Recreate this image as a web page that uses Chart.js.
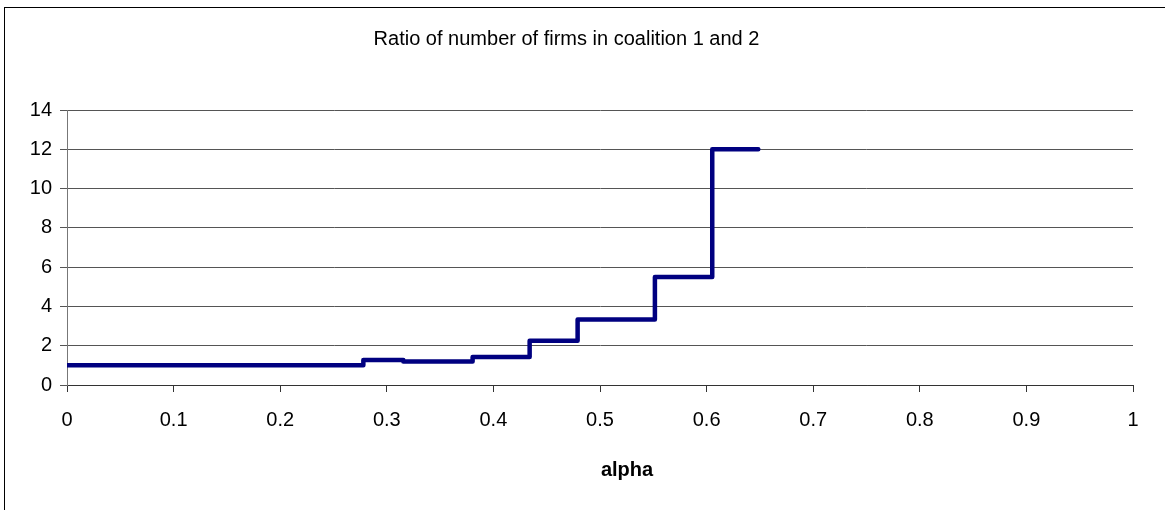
<!DOCTYPE html>
<html>
<head>
<meta charset="utf-8">
<title>Ratio of number of firms</title>
<script src="https://cdn.jsdelivr.net/npm/chart.js@4.4.0/dist/chart.umd.min.js"></script>
<style>
  html, body { margin: 0; padding: 0; background: #fff; }
  body { width: 1165px; height: 510px; position: relative; overflow: hidden; }
  .frame { position: absolute; left: 4px; top: 7px; width: 1300px; height: 600px;
           border-left: 1px solid #000; border-top: 1px solid #000; }
  .wrap { position: absolute; left: 0; top: 0; width: 1138px; height: 510px; }
</style>
</head>
<body>
<div class="frame"></div>
<div class="wrap"><canvas id="gr1"></canvas></div>
<script>
// step points: value holds from this alpha until the next one
let alpha = [0, 0.278, 0.3155, 0.3805, 0.434, 0.479, 0.5515, 0.6053, 0.6485];
let ratio = [1, 1.27, 1.2, 1.43, 2.25, 3.33, 5.5, 12, 12];
let xTicks = [0, 0.1, 0.2, 0.3, 0.4, 0.5, 0.6, 0.7, 0.8, 0.9, 1];
let yTicks = [0, 2, 4, 6, 8, 10, 12, 14];

let points = alpha.map((a, i) => ({ x: a, y: ratio[i] }));
let fam = '"Liberation Sans", Arial, sans-serif';

// axis title, a bit right of centre like the original
let alphaLabel = {
  id: 'alphaLabel',
  afterDraw(chart) {
    let c = chart.ctx, ca = chart.chartArea;
    c.save();
    c.font = 'bold 20px ' + fam;
    c.fillStyle = '#000';
    c.textAlign = 'center';
    c.textBaseline = 'middle';
    c.fillText('alpha', (ca.left + ca.right) / 2 + 27, 470);
    c.restore();
  }
};

let config = {
  type: 'line',
  data: {
    datasets: [{
      data: points,
      borderColor: '#000080',
      borderWidth: 4.5,
      pointRadius: 0,
      stepped: 'before',
      fill: false,
      borderCapStyle: 'round',
      borderJoinStyle: 'round'
    }]
  },
  options: {
    responsive: true,
    maintainAspectRatio: false,
    animation: false,
    layout: { padding: { left: 0, right: 5, top: 0, bottom: 0 } },
    plugins: {
      legend: { display: false },
      tooltip: { enabled: false },
      title: {
        display: true,
        text: 'Ratio of number of firms in coalition 1 and 2',
        color: '#000',
        font: { family: fam, size: 20, weight: 'normal' },
        padding: { top: 27, bottom: 59 }
      }
    },
    scales: {
      x: {
        type: 'linear',
        min: 0, max: 1,
        afterBuildTicks(s) { s.ticks = xTicks.map(v => ({ value: v })); },
        afterFit(s) { s.height = 125; s.paddingLeft = 0; s.paddingRight = 0; },
        ticks: {
          color: '#000',
          font: { family: fam, size: 20 },
          padding: 16,
          maxRotation: 0,
          callback: v => String(v)
        },
        grid: { drawOnChartArea: false, drawTicks: true, tickLength: 7, color: '#333' },
        border: { color: '#333', width: 1 }
      },
      y: {
        min: 0, max: 14,
        afterBuildTicks(s) { s.ticks = yTicks.map(v => ({ value: v })); },
        afterFit(s) { s.width = 67; s.paddingTop = 0; s.paddingBottom = 0; },
        ticks: {
          color: '#000',
          font: { family: fam, size: 20 },
          padding: 8,
          callback: v => String(v)
        },
        grid: { color: '#555', tickLength: 7 },
        border: { color: '#777', width: 1 }
      }
    }
  },
  plugins: [alphaLabel]
};

let graph1 = new Chart(document.getElementById('gr1').getContext('2d'), config);
</script>
</body>
</html>
